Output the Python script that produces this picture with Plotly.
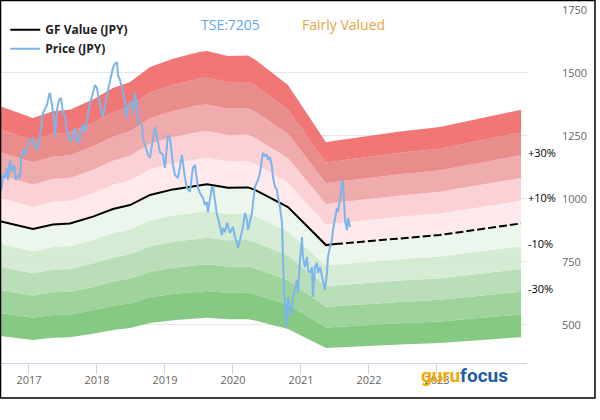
import plotly.graph_objects as go

# ---- data (x in fractional years) ----
gf_dates = [2016.574, 2017.059, 2017.353, 2017.603, 2017.941, 2018.235, 2018.486, 2018.780,
            2019.118, 2019.515, 2019.618, 2019.927, 2020.221, 2020.324, 2020.809, 2021.368, 2021.500]
gf_values = [912, 881, 899, 903, 930, 960, 976, 1016, 1038, 1056, 1058, 1045, 1046, 1036, 968, 817, 821]
gf_future_dates = [2021.500, 2022.456, 2023.045, 2024.236]
gf_future_values = [821, 845, 857, 903]

price_dates = [
    2016.574, 2016.589, 2016.603, 2016.618, 2016.648, 2016.677, 2016.692, 2016.721, 2016.750, 2016.780,
    2016.809, 2016.839, 2016.868, 2016.883, 2016.912, 2016.942, 2016.971, 2017.015, 2017.059, 2017.089,
    2017.118, 2017.147, 2017.177, 2017.206, 2017.236, 2017.265, 2017.295, 2017.309, 2017.339, 2017.368,
    2017.383, 2017.412, 2017.442, 2017.471, 2017.500, 2017.530, 2017.559, 2017.589, 2017.618, 2017.647,
    2017.677, 2017.706, 2017.735, 2017.765, 2017.794, 2017.824, 2017.853, 2017.882, 2017.912, 2017.941,
    2017.971, 2018.000, 2018.029, 2018.059, 2018.088, 2018.118, 2018.147, 2018.176, 2018.206, 2018.235,
    2018.265, 2018.294, 2018.309, 2018.338, 2018.368, 2018.412, 2018.427, 2018.456, 2018.515, 2018.529,
    2018.559, 2018.588, 2018.603, 2018.662, 2018.676, 2018.706, 2018.750, 2018.779, 2018.824, 2018.853,
    2018.897, 2018.926, 2018.971, 2019.000, 2019.044, 2019.074, 2019.103, 2019.118, 2019.147, 2019.191,
    2019.250, 2019.265, 2019.294, 2019.324, 2019.368, 2019.397, 2019.412, 2019.441, 2019.471, 2019.485,
    2019.515, 2019.559, 2019.588, 2019.618, 2019.632, 2019.662, 2019.691, 2019.706, 2019.735, 2019.765,
    2019.779, 2019.809, 2019.838, 2019.853, 2019.882, 2019.912, 2019.956, 2020.000, 2020.029, 2020.059,
    2020.074, 2020.103, 2020.147, 2020.176, 2020.206, 2020.221, 2020.250, 2020.279, 2020.294, 2020.324,
    2020.353, 2020.368, 2020.397, 2020.426, 2020.441, 2020.471, 2020.500, 2020.515, 2020.544, 2020.574,
    2020.588, 2020.618, 2020.647, 2020.662, 2020.691, 2020.721, 2020.735, 2020.750, 2020.765, 2020.779,
    2020.794, 2020.809, 2020.838, 2020.853, 2020.882, 2020.912, 2020.941, 2020.956, 2020.985, 2021.015,
    2021.029, 2021.059, 2021.088, 2021.103, 2021.132, 2021.162, 2021.176, 2021.206, 2021.235, 2021.250,
    2021.279, 2021.309, 2021.353, 2021.382, 2021.397, 2021.426, 2021.456, 2021.471, 2021.500, 2021.529,
    2021.544, 2021.574, 2021.603, 2021.618, 2021.647, 2021.676, 2021.691, 2021.721]
price_values = [
    1115, 1036, 1056, 1095, 1083, 1123, 1075, 1155, 1107, 1135,
    1075, 1095, 1083, 1155, 1194, 1175, 1202, 1234, 1242, 1210,
    1194, 1234, 1274, 1341, 1361, 1373, 1413, 1421, 1373, 1313,
    1246, 1353, 1393, 1401, 1341, 1333, 1274, 1242, 1226, 1254,
    1282, 1234, 1222, 1274, 1294, 1266, 1321, 1361, 1393, 1425,
    1452, 1440, 1393, 1353, 1325, 1373, 1413, 1448, 1480, 1520,
    1536, 1544, 1492, 1472, 1440, 1385, 1321, 1373, 1385, 1341,
    1421, 1373, 1306, 1294, 1242, 1214, 1175, 1163, 1242, 1286,
    1226, 1186, 1175, 1123, 1254, 1242, 1175, 1135, 1095, 1083,
    1175, 1135, 1083, 1044, 1028, 1095, 1123, 1135, 1067, 1044,
    1024, 1004, 976, 988, 948, 1008, 1048, 1048, 988, 937,
    925, 885, 857, 885, 869, 905, 865, 889, 849, 825,
    806, 837, 889, 944, 917, 877, 905, 944, 984, 1048,
    1067, 1075, 1103, 1155, 1183, 1171, 1175, 1155, 1167, 1127,
    1087, 1048, 1036, 1008, 968, 905, 770, 639, 599, 492,
    548, 611, 571, 532, 611, 639, 679, 627, 758, 849,
    770, 730, 770, 718, 706, 730, 611, 730, 746, 706,
    730, 690, 639, 706, 770, 810, 837, 877, 929, 964,
    948, 996, 1063, 1075, 917, 877, 925, 889]

band_factors = [0.5, 0.6, 0.7, 0.8, 0.9, 1.0, 1.1, 1.2, 1.3, 1.4, 1.5]
band_colors = ["rgba(116,193,114,0.88)", "rgba(145,205,141,0.88)", "rgba(177,219,174,0.88)",
               "rgba(207,232,206,0.88)", "rgba(235,245,235,0.88)", "rgba(255,230,233,0.88)",
               "rgba(252,203,207,0.88)", "rgba(238,161,161,0.88)", "rgba(229,124,124,0.88)",
               "rgba(239,99,99,0.88)"]
pct_labels = ["+30%", "+10%", "-10%", "-30%"]
pct_values = [0.3, 0.1, -0.1, -0.3]

x_ticks = [2017, 2018, 2019, 2020, 2021, 2022, 2023]
y_ticks = [500, 750, 1000, 1250, 1500, 1750]

band_dates = gf_dates + gf_future_dates[1:]
band_base = gf_values + gf_future_values[1:]

fig = go.Figure()
for i, f in enumerate(band_factors):
    fig.add_trace(go.Scatter(
        x=band_dates, y=[v * f for v in band_base], mode="lines",
        line=dict(width=0), fill=None if i == 0 else "tonexty",
        fillcolor=None if i == 0 else band_colors[i - 1],
        showlegend=False, hoverinfo="skip"))

fig.add_trace(go.Scatter(x=gf_dates, y=gf_values, mode="lines", name="GF Value (JPY)",
                         line=dict(color="black", width=2)))
fig.add_trace(go.Scatter(x=gf_future_dates, y=gf_future_values, mode="lines", showlegend=False,
                         line=dict(color="black", width=2, dash="8px,3px")))
fig.add_trace(go.Scatter(x=price_dates, y=price_values, mode="lines", name="Price (JPY)",
                         line=dict(color="#7cb5ec", width=2)))

for lab, p in zip(pct_labels, pct_values):
    fig.add_annotation(x=gf_future_dates[-1], y=gf_future_values[-1] * (1 + p), text=lab,
                       showarrow=False, xanchor="left", xshift=5, yshift=3,
                       font=dict(family="Open Sans", size=11, color="black"))

fig.add_annotation(xref="paper", yref="paper", x=0.438, y=1.0, yanchor="middle", yshift=-14,
                   text="TSE:7205", showarrow=False,
                   font=dict(family="Open Sans", size=14, color="#5fa8ee"))
fig.add_annotation(xref="paper", yref="paper", x=0.651, y=1.0, yanchor="middle", yshift=-14,
                   text="Fairly Valued", showarrow=False,
                   font=dict(family="Open Sans", size=14, color="#eba448"))

fig.add_annotation(xref="paper", yref="paper", x=0.8805, y=0.0, yshift=-12, xanchor="center",
                   yanchor="middle", showarrow=False,
                   text="<span style='color:#f5a700'>guru</span><span style='color:#1f5ba6'>focus</span>",
                   font=dict(family="Roboto", size=19, weight=700))

fig.add_shape(type="rect", xref="paper", yref="paper", x0=0.001, x1=1.129, y0=-0.0992, y1=1.027,
              line=dict(color="black", width=1.5), fillcolor="rgba(0,0,0,0)")

fig.update_layout(
    width=600, height=420, margin=dict(l=0, r=73, t=10, b=57, autoexpand=False),
    plot_bgcolor="white", paper_bgcolor="white",
    font=dict(family="Open Sans", size=11, color="#666666"),
    showlegend=True,
    legend=dict(x=0.01, y=0.985, xanchor="left", yanchor="top", bgcolor="rgba(0,0,0,0)",
                traceorder="normal",
                font=dict(family="Open Sans", size=12, color="#222222", weight=700),
                tracegroupgap=0, itemwidth=30),
    xaxis=dict(range=[2016.574, 2024.324], tickvals=x_ticks, ticktext=[str(t) for t in x_ticks],
               showgrid=False, zeroline=False, showline=True, linecolor="#ccd6eb", linewidth=1,
               ticks="outside", ticklen=10, tickcolor="#ccd6eb", tickwidth=1, automargin=False,
               ticklabelstandoff=-3,
               tickfont=dict(family="Open Sans", size=11, color="#666666")),
    yaxis=dict(range=[349, 1750], tickvals=y_ticks, side="right", showgrid=True,
               gridcolor="#e6e6e6", gridwidth=1, zeroline=False, showline=False,
               ticklabelstandoff=34, automargin=False,
               tickfont=dict(family="Open Sans", size=11, color="#666666")),
)

fig.write_html("out.html", config={"displayModeBar": False},
               post_script="document.body.style.margin='0';")
